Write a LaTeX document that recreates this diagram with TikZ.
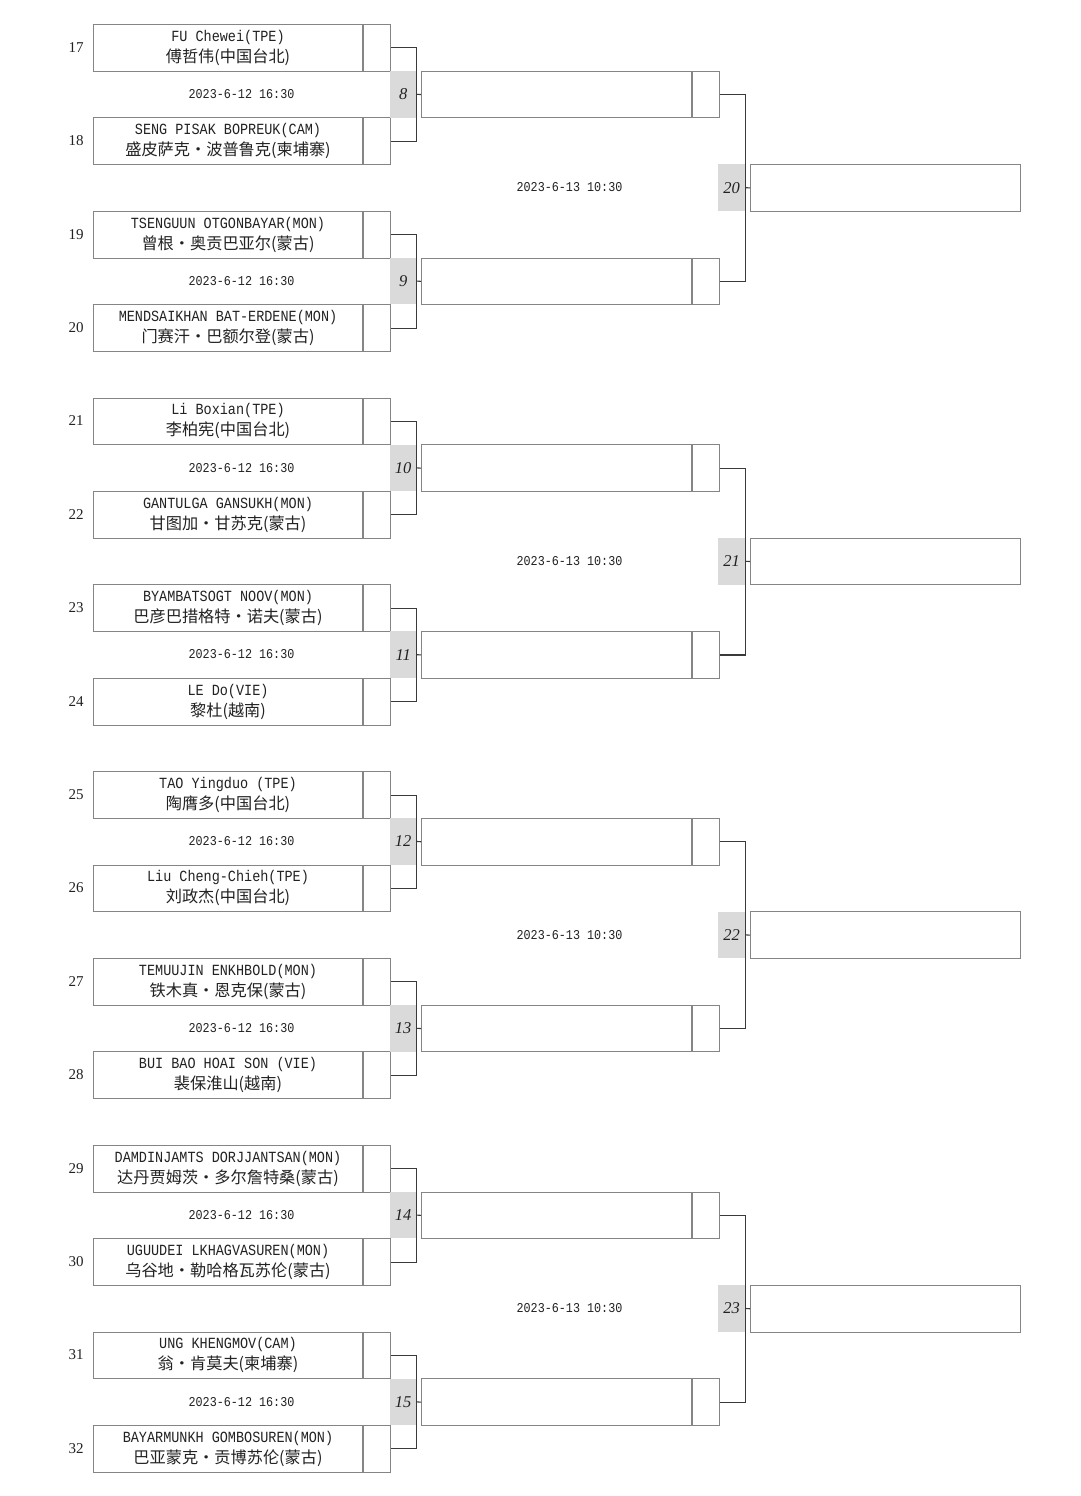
\documentclass[tikz,border=0pt]{standalone}
\usepackage{fontspec}
\setmainfont{Liberation Serif}
\newfontfamily\latinf[FakeStretch=0.87]{Liberation Mono}
\newfontfamily\cjkf{Noto Sans CJK SC}
\definecolor{boxline}{HTML}{858585}
\definecolor{connline}{HTML}{3A3A3A}
\definecolor{gfill}{HTML}{DADADA}
\definecolor{txt}{HTML}{222222}
\newcommand\brEntry[4]{%
  \pgfmathsetmacro\brT{24+#2*46.7}
  \node[seedno] (n#1) at (76,\brT+23.35) {#1};
  \node[namebox, anchor=north west] (e#1) at (93,\brT)
    {{\latinf\fontsize{15.5}{18}\selectfont #3}\\[3pt]{\cjkf\fontsize{16.2}{18}\selectfont #4}};
  \node[scorebox, anchor=west] (s#1) at (e#1.east) {};
}
\newcommand\brMatch[4]{%
  \pgfmathsetmacro\brT{24+#2*46.7}
  \node[gbox, minimum width=26pt, anchor=north west] (m#1) at (390,\brT) {#1};
  \draw[conn] (s#3.east) -| (m#1.east) |- (s#4.east);
  \node[rbox, anchor=north west] (r#1) at (421,\brT) {};
  \node[scorebox, anchor=west] (rs#1) at (r#1.east) {};
  \draw[conn] (m#1.east) -- (r#1.west);
  \node[datel] (d#1) at (241.5,\brT+23.35) {2023-6-12 16:30};
}
\newcommand\brFinal[4]{%
  \pgfmathsetmacro\brT{24+#2*46.7}
  \node[gbox, minimum width=27pt, anchor=north west] (m#1) at (718,\brT) {#1};
  \draw[conn] (rs#3.east) -| (m#1.east) |- (rs#4.east);
  \node[rbox, anchor=north west] (f#1) at (750,\brT) {};
  \draw[conn] (m#1.east) -- (f#1.west);
  \node[datel] (d#1) at (569.5,\brT+23.35) {2023-6-13 10:30};
}
\begin{document}
\begin{tikzpicture}[x=1pt,y=-1pt,
  namebox/.style={draw=boxline, line width=1pt, minimum width=269pt, minimum height=46.7pt,
    inner sep=0pt, align=center, text=txt, font=\fontsize{14}{18}\selectfont},
  scorebox/.style={draw=boxline, line width=1pt, minimum width=27pt, minimum height=46.7pt, inner sep=0pt},
  rbox/.style={draw=boxline, line width=1pt, minimum width=270pt, minimum height=46.7pt, inner sep=0pt},
  gbox/.style={fill=gfill, draw=none, minimum height=46.7pt, inner sep=0pt, text=txt,
    font=\fontsize{16.5}{18}\selectfont\itshape},
  conn/.style={draw=connline, line width=1.1pt},
  seedno/.style={inner sep=0pt, text=txt, font=\fontsize{15}{18}\selectfont},
  datel/.style={inner sep=0pt, text=txt, font=\latinf\fontsize{13.5}{14}\selectfont}
]
\useasboundingbox[fill=white] (0,0) rectangle (1080,1496);

\brEntry{17}{0}{FU Chewei(TPE)}{傅哲伟(中国台北)}
\brEntry{18}{2}{SENG PISAK BOPREUK(CAM)}{盛皮萨克•波普鲁克(柬埔寨)}
\brEntry{19}{4}{TSENGUUN OTGONBAYAR(MON)}{曾根•奥贡巴亚尔(蒙古)}
\brEntry{20}{6}{MENDSAIKHAN BAT-ERDENE(MON)}{门赛汗•巴额尔登(蒙古)}
\brEntry{21}{8}{Li Boxian(TPE)}{李柏宪(中国台北)}
\brEntry{22}{10}{GANTULGA GANSUKH(MON)}{甘图加•甘苏克(蒙古)}
\brEntry{23}{12}{BYAMBATSOGT NOOV(MON)}{巴彦巴措格特•诺夫(蒙古)}
\brEntry{24}{14}{LE Do(VIE)}{黎杜(越南)}
\brEntry{25}{16}{TAO Yingduo (TPE)}{陶膺多(中国台北)}
\brEntry{26}{18}{Liu Cheng-Chieh(TPE)}{刘政杰(中国台北)}
\brEntry{27}{20}{TEMUUJIN ENKHBOLD(MON)}{铁木真•恩克保(蒙古)}
\brEntry{28}{22}{BUI BAO HOAI SON (VIE)}{裴保淮山(越南)}
\brEntry{29}{24}{DAMDINJAMTS DORJJANTSAN(MON)}{达丹贾姆茨•多尔詹特桑(蒙古)}
\brEntry{30}{26}{UGUUDEI LKHAGVASUREN(MON)}{乌谷地•勒哈格瓦苏伦(蒙古)}
\brEntry{31}{28}{UNG KHENGMOV(CAM)}{翁•肯莫夫(柬埔寨)}
\brEntry{32}{30}{BAYARMUNKH GOMBOSUREN(MON)}{巴亚蒙克•贡博苏伦(蒙古)}

\brMatch{8}{1}{17}{18}
\brMatch{9}{5}{19}{20}
\brMatch{10}{9}{21}{22}
\brMatch{11}{13}{23}{24}
\brMatch{12}{17}{25}{26}
\brMatch{13}{21}{27}{28}
\brMatch{14}{25}{29}{30}
\brMatch{15}{29}{31}{32}

\brFinal{20}{3}{8}{9}
\brFinal{21}{11}{10}{11}
\brFinal{22}{19}{12}{13}
\brFinal{23}{27}{14}{15}
\end{tikzpicture}
\end{document}
